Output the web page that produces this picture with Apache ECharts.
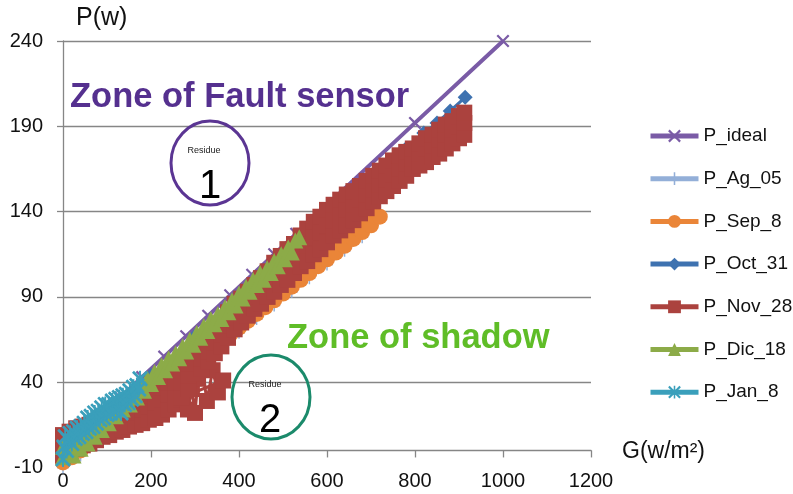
<!DOCTYPE html>
<html><head><meta charset="utf-8">
<script src="https://cdn.jsdelivr.net/npm/echarts@6/dist/echarts.min.js"></script>
<style>html,body{margin:0;padding:0;background:#fff}#c{width:793px;height:494px}</style>
</head><body><div id="c"></div>
<script>
// ---- data (G in W/m², P in W) ----
const seriesNames = ['P_ideal','P_Ag_05','P_Sep_8','P_Oct_31','P_Nov_28','P_Dic_18','P_Jan_8'];
const xTicks = [0,200,400,600,800,1000,1200];
const yTicks = [-10,40,90,140,190,240];

const P_ideal = [[0,0],[40,9.6],[80,19],[130,31],[180,43],[230,55],[280,67],[330,79],[380,91],[430,103],[480,115],[530,127],[800,192],[1000,240]];
const P_Ag_05 = [[0,-10],[40,-3],[80,5],[120,13],[160,21],[200,29],[240,37],[280,45],[320,53],[360,61],[400,69],[440,77],[480,85],[520,93],[560,101],[600,109],[640,117],[680,125]];
const P_Sep_8 = [[0,-7],[10,-3],[20,-4],[30,2],[40,0],[50,6],[60,4],[70,10],[80,8],[90,14],[100,12],[110,18],[120,16],[130,22],[140,20],[150,26],[160,24],[170,30],[180,28],[190,34],[200,32],[210,38],[220,36],[230,42],[240,40],[250,46],[260,44],[270,50],[280,48],[290,54],[300,52],[310,58],[320,56],[330,62],[340,60],[350,66],[360,64],[370,70],[380,68],[390,74],[400,72],[410,78],[420,76],[430,82],[440,80],[450,86],[460,84],[470,90],[480,88],[490,94],[500,92],[510,98],[520,96],[530,102],[540,100],[550,106],[560,104],[570,110],[580,108],[590,114],[600,112],[610,118],[620,116],[630,122],[640,120],[650,126],[660,124],[670,130],[680,128],[690,133],[700,132],[710,137],[720,137]];
const P_Oct_31 = [[0,0],[100,21],[200,44],[300,67],[400,90],[500,113],[600,136],[700,158],[780,177],[820,186],[850,192],[880,199],[914,207]];
const P_Nov_28 = [
  [0,-3],[0,3],[0,9],[15,-1],[15,5],[15,11],[30,1],[30,7],[30,13],[45,3],[45,9],[45,14],[60,4],[60,10],[60,15],
  [75,6],[75,12],[75,17],[90,8],[90,13],[90,19],[105,9],[105,15],[105,21],[120,11],[120,17],[120,22],[135,12],[135,19],[135,25],
  [150,14],[150,21],[150,27],[165,15],[165,22],[165,29],[180,16],[180,24],[180,30],[195,18],[195,26],[195,32],[210,19],[210,28],[210,35],
  [225,21],[225,30],[225,37],[240,24],[240,33],[240,40],[255,27],[255,36],[255,43],
  [255,40],[270,30],[284,24],[293,36],[300,22],[307,42],[316,50],[327,29],[340,47],[352,34],[364,41],
  [270,31],[270,40],[270,47],[285,36],[285,44],[285,51],[300,45],[300,51],[300,57],[315,48],[315,54],[315,61],[330,52],[330,58],[330,66],
  [345,57],[345,63],[345,70],[360,61],[360,68],[360,75],[375,66],[375,73],[375,81],[390,71],[390,78],[390,86],[405,75],[405,82],[405,89],
  [420,79],[420,86],[420,93],[435,83],[435,90],[435,97],[450,86],[450,94],[450,101],[465,90],[465,98],[465,105],[480,93],[480,102],[480,110],
  [495,97],[495,106],[495,114],[510,100],[510,110],[510,118],[525,104],[525,114],[525,121],[540,108],[540,118],[540,126],[555,111],[555,121],[555,130],
  [570,115],[570,125],[570,134],[585,118],[585,128],[585,137],[600,122],[600,132],[600,141],[615,126],[615,135],[615,144],[630,129],[630,138],[630,147],
  [645,132],[645,141],[645,150],[660,135],[660,144],[660,152],[675,139],[675,147],[675,155],[690,142],[690,150],[690,158],[705,146],[705,153],[705,161],
  [720,149],[720,156],[720,164],[735,152],[735,159],[735,167],[750,155],[750,162],[750,170],[765,158],[765,165],[765,173],[780,161],[780,168],[780,175],
  [795,165],[795,171],[795,177],[810,167],[810,174],[810,180],[825,169],[825,177],[825,183],[840,172],[840,179],[840,185],[855,174],[855,182],[855,188],
  [870,177],[870,185],[870,191],[885,180],[885,188],[885,193],[900,183],[900,190],[900,196],[912,185],[912,192],[912,198]];
const P_Dic_18 = [[0,-4],[0,2],[8,-2],[16,0],[24,-3],[32,4],[40,1],[48,7],[56,4],[64,11],[72,8],[80,15],[88,12],[96,19],[104,16],[112,23],[120,20],[128,27],[136,24],[144,31],[152,27],[160,34],[168,31],[176,38],[184,35],[192,42],[200,39],[208,46],[216,43],[224,50],[232,47],[240,54],[248,51],[256,57],[264,54],[272,61],[280,58],[288,65],[296,62],[304,69],[312,66],[320,73],[328,70],[336,77],[344,74],[352,80],[360,77],[368,84],[376,81],[384,88],[392,85],[400,92],[408,89],[416,96],[424,93],[432,100],[440,97],[448,104],[456,100],[464,107],[472,104],[480,111],[488,108],[496,115],[504,112],[512,119],[520,116],[528,123],[537,125]];
const P_Jan_8 = [[0,-5],[2,2],[5,8],[8,0],[12,6],[16,10],[20,4],[24,11],[28,7],[32,13],[36,8],[40,14],[44,10],[48,16],[52,11],[56,19],[60,13],[64,20],[68,14],[72,22],[76,16],[80,23],[84,18],[88,25],[92,19],[96,27],[100,21],[104,27],[108,22],[112,29],[116,23],[120,30],[124,24],[128,31],[132,22],[136,32],[140,27],[144,33],[148,28],[152,35],[156,30],[160,37],[164,32],[168,38],[172,36],[175,42]];

const colors = ['#7a5ba6','#93afd8','#ea8538','#3e72b0','#ab423e','#8cab48','#3a9fbb'];
const X_SYM = 'path://M0,1.2L1.2,0L5,3.8L8.8,0L10,1.2L6.2,5L10,8.8L8.8,10L5,6.2L1.2,10L0,8.8L3.8,5Z';
const PLUS_SYM = 'path://M4.4,0L5.6,0L5.6,4.4L10,4.4L10,5.6L5.6,5.6L5.6,10L4.4,10L4.4,5.6L0,5.6L0,4.4L4.4,4.4Z';
const STAR_SYM = 'path://M0,1.2L1.2,0L5,3.8L8.8,0L10,1.2L6.2,5L10,8.8L8.8,10L5,6.2L1.2,10L0,8.8L3.8,5Z M4.4,0L5.6,0L5.6,10L4.4,10Z';
const symbols = [X_SYM, PLUS_SYM, 'circle', 'diamond', 'rect', 'triangle', STAR_SYM];
const symSizes = [13, 12, 16, 15, 16, 16, 16];
const lineWidths = [4, 3, 3, 3, 3, 3, 3];
const allData = [P_ideal, P_Ag_05, P_Sep_8, P_Oct_31, P_Nov_28, P_Dic_18, P_Jan_8];

const FONT = 'Liberation Sans';
const chart = echarts.init(document.getElementById('c'), null, {renderer:'canvas'});
chart.setOption({
  animation: false,
  backgroundColor: '#fff',
  color: colors,
  grid: {left: 63, right: 202, top: 41, bottom: 26.5, containLabel: false, outerBoundsMode: 'none'},
  xAxis: {
    type: 'value', min: xTicks[0], max: xTicks[xTicks.length-1], interval: 200,
    axisLine: {onZero: true, lineStyle: {color: '#868686', width: 1.3}},
    axisTick: {show: true, length: 7, lineStyle: {color: '#868686', width: 1.3}},
    axisLabel: {margin: 4, fontSize: 20, fontFamily: FONT, color: '#111', formatter: v => String(v)},
    splitLine: {show: false}
  },
  yAxis: {
    type: 'value', min: yTicks[0], max: yTicks[yTicks.length-1], interval: 50,
    axisLine: {show: true, onZero: false, lineStyle: {color: '#868686', width: 1.3}},
    axisTick: {show: true, length: 6, lineStyle: {color: '#868686', width: 1.3}},
    axisLabel: {margin: 20, fontSize: 20, fontFamily: FONT, color: '#111', formatter: v => String(v)},
    splitLine: {show: true, showMinLine: false, lineStyle: {color: '#868686', width: 1.3}}
  },
  legend: {
    orient: 'vertical', left: 648, top: 126, padding: 0,
    itemWidth: 48, itemHeight: 16, itemGap: 22.7,
    lineStyle: {width: 5},
    textStyle: {fontSize: 19, fontFamily: FONT, color: '#111', lineHeight: 20},
    data: seriesNames
  },
  series: seriesNames.map((n, i) => ({
    name: n, type: 'line', data: allData[i],
    symbol: symbols[i], symbolSize: symSizes[i], showAllSymbol: true,
    lineStyle: {width: lineWidths[i], color: colors[i]},
    itemStyle: {color: colors[i]},
    z: 2 + i
  })),
  graphic: [
    {type: 'text', left: 76, top: 6, style: {text: 'P(w)', font: '25px "Liberation Sans"', fill: '#111'}},
    {type: 'text', left: 622, top: 440, style: {text: 'G(w/m²)', font: '23px "Liberation Sans"', fill: '#111'}},
    {type: 'text', x: 70, y: 97, z: 100, style: {text: 'Zone of Fault sensor', font: 'bold 34.5px "Liberation Sans"', fill: '#55308f', textVerticalAlign: 'middle', shadowColor: 'rgba(0,0,0,0.9)', shadowOffsetX: 2, shadowOffsetY: 2, shadowBlur: 0}},
    {type: 'text', x: 287, y: 338, z: 100, style: {text: 'Zone of shadow', font: 'bold 34.5px "Liberation Sans"', fill: '#5fbd27', textVerticalAlign: 'middle', shadowColor: 'rgba(0,0,0,0.9)', shadowOffsetX: 2, shadowOffsetY: 2, shadowBlur: 0}},
    {type: 'circle', z: 100, shape: {cx: 0, cy: 0, r: 39}, x: 210, y: 163, scaleY: 42/39, style: {fill: 'none', stroke: '#5b3593', lineWidth: 3, strokeNoScale: true}},
    {type: 'text', z: 100, x: 204, y: 151, style: {text: 'Residue', font: '9px "Liberation Sans"', fill: '#222', textAlign: 'center', textVerticalAlign: 'middle'}},
    {type: 'text', z: 100, x: 210, y: 187, style: {text: '1', font: '40px "Liberation Sans"', fill: '#000', textAlign: 'center', textVerticalAlign: 'middle'}},
    {type: 'circle', z: 100, shape: {cx: 0, cy: 0, r: 39}, x: 271, y: 397, scaleY: 42/39, style: {fill: 'none', stroke: '#1b8a6b', lineWidth: 3, strokeNoScale: true}},
    {type: 'text', z: 100, x: 265, y: 385, style: {text: 'Residue', font: '9px "Liberation Sans"', fill: '#222', textAlign: 'center', textVerticalAlign: 'middle'}},
    {type: 'text', z: 100, x: 270, y: 421, style: {text: '2', font: '40px "Liberation Sans"', fill: '#000', textAlign: 'center', textVerticalAlign: 'middle'}}
  ]
});
</script></body></html>
